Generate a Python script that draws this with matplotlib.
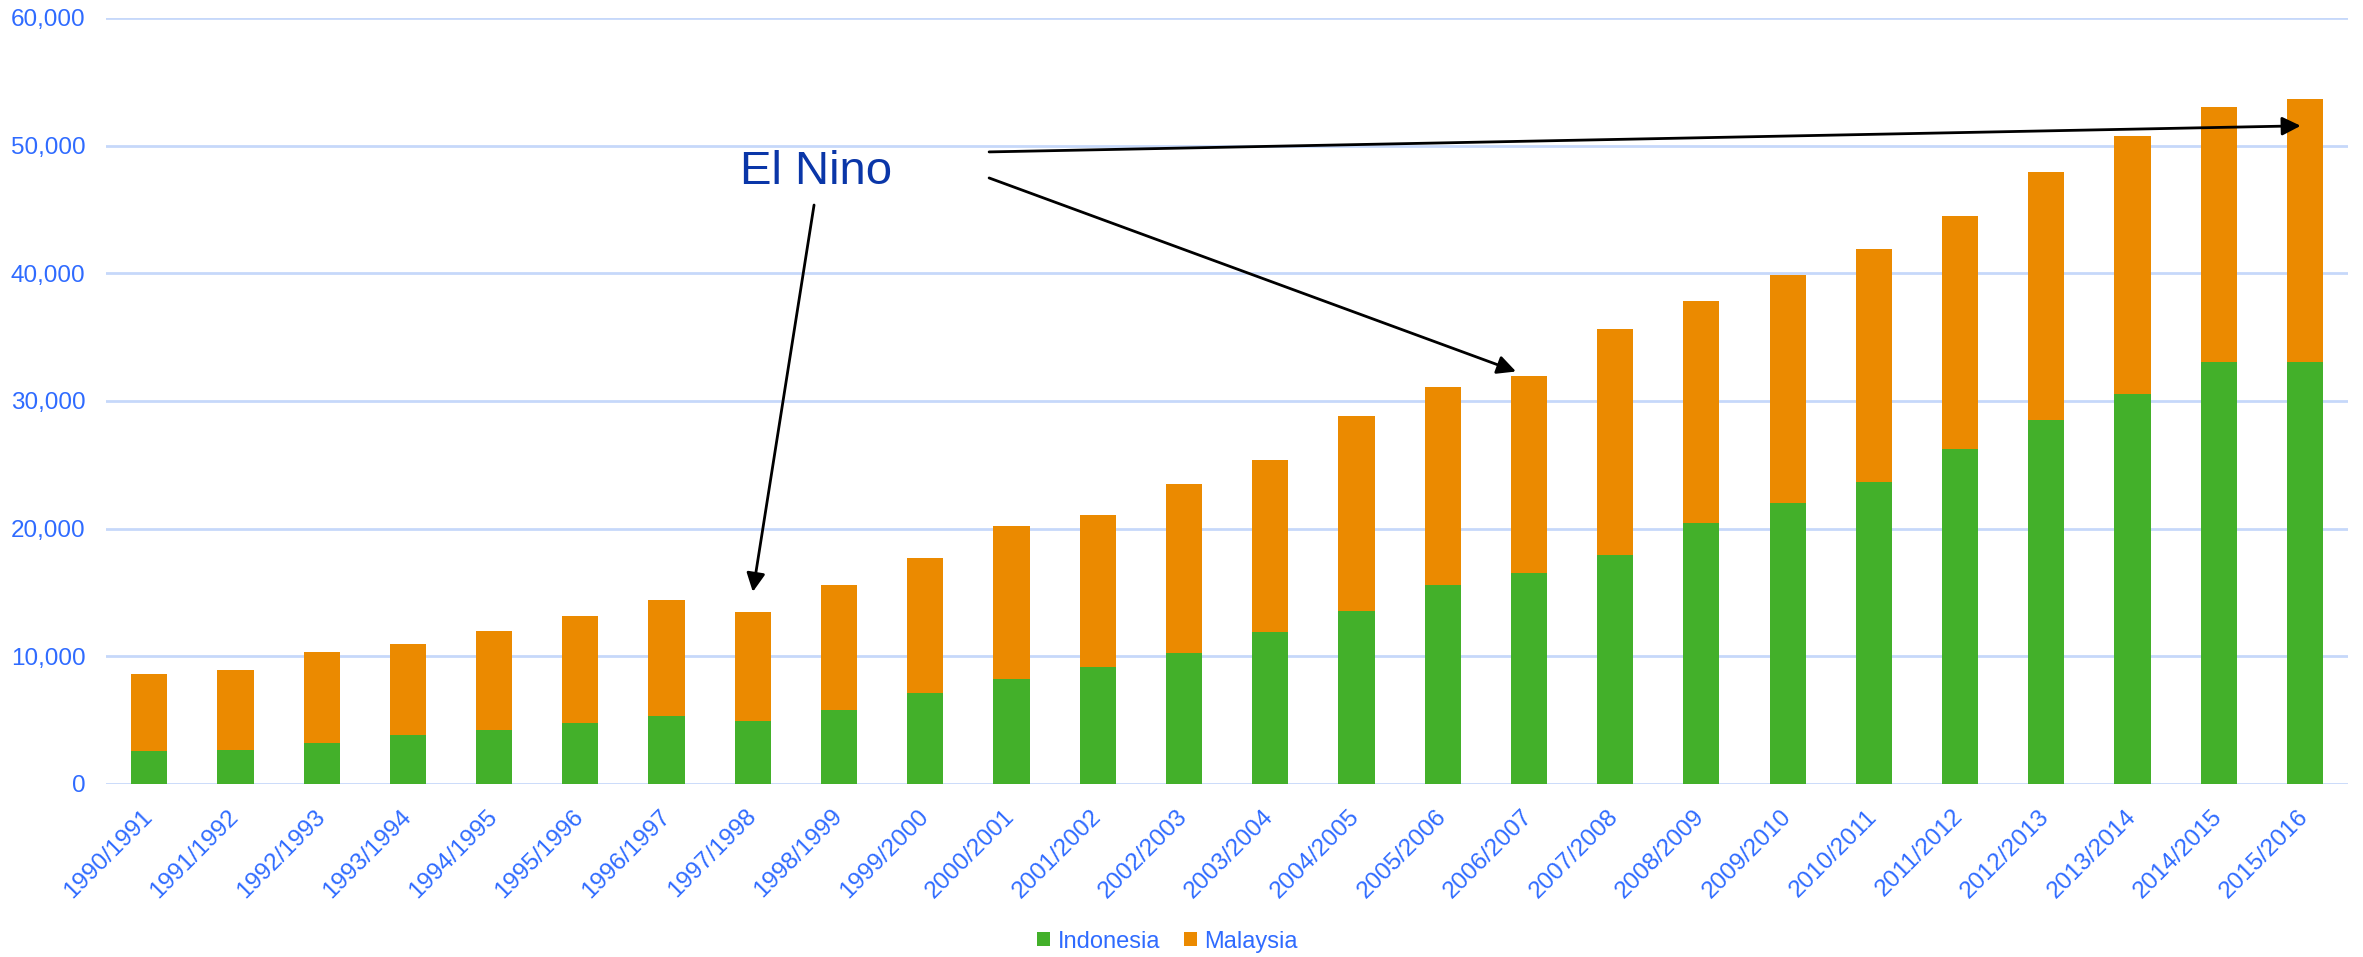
import numpy as np
import matplotlib
matplotlib.use("Agg")
import matplotlib.pyplot as plt
from matplotlib.ticker import FuncFormatter

plt.rcParams['font.family'] = ['Liberation Sans', 'DejaVu Sans']

seasons = ["1990/1991", "1991/1992", "1992/1993", "1993/1994", "1994/1995",
           "1995/1996", "1996/1997", "1997/1998", "1998/1999", "1999/2000",
           "2000/2001", "2001/2002", "2002/2003", "2003/2004", "2004/2005",
           "2005/2006", "2006/2007", "2007/2008", "2008/2009", "2009/2010",
           "2010/2011", "2011/2012", "2012/2013", "2013/2014", "2014/2015",
           "2015/2016"]
indonesia = [2560, 2695, 3190, 3820, 4190, 4760, 5310, 4920, 5760, 7150,
             8250, 9160, 10260, 11940, 13560, 15550, 16545, 17960, 20470, 22020,
             23615, 26205, 28485, 30525, 33070, 33070]
total = [8640, 8955, 10370, 11000, 11990, 13120, 14375, 13480, 15550, 17675,
         20210, 21075, 23510, 25400, 28800, 31110, 31970, 35610, 37830, 39850,
         41890, 44485, 47940, 50770, 53025, 53620]
malaysia = [t - i for t, i in zip(total, indonesia)]

green = "#43b02a"
orange = "#eb8a00"
blue = "#2f6bff"
grid_c = "#c6d8fa"

fig = plt.figure(figsize=(23.63, 9.57), dpi=100)
ax = fig.add_axes([0.0449, 0.1808, 0.9488, 0.8004])

x = np.arange(len(seasons))
ax.bar(x, indonesia, width=0.42, color=green, label="Indonesia", zorder=3)
ax.bar(x, malaysia, width=0.42, bottom=indonesia, color=orange, label="Malaysia", zorder=3)

ax.set_xlim(-0.5, len(seasons) - 0.5)
ax.set_ylim(0, 60000)
ax.set_yticks(np.arange(0, 60001, 10000))
ax.yaxis.set_major_formatter(FuncFormatter(lambda v, p: f"{int(v):,}"))
ax.grid(axis="y", color=grid_c, lw=2, zorder=0)
ax.set_axisbelow(True)
for s in ax.spines.values():
    s.set_visible(False)
ax.tick_params(axis="both", length=0, labelsize=17.5, labelcolor=blue)
ax.tick_params(axis="y", pad=15)
ax.tick_params(axis="x", pad=21)
ax.set_xticks(x)
ax.set_xticklabels(seasons, rotation=45, ha="right", va="center", rotation_mode="anchor")

# El Nino annotation
ax.text(6.85, 47900, "El Nino", fontsize=34, color="#0a36a8", va="center", ha="left")
arrow = dict(arrowstyle="-|>", color="black", lw=2, mutation_scale=28, shrinkA=0, shrinkB=0)
ax.annotate("", xy=(7.0, 15050), xytext=(7.71, 45350), arrowprops=arrow)
ax.annotate("", xy=(15.85, 32310), xytext=(9.74, 47470), arrowprops=arrow)
ax.annotate("", xy=(24.95, 51555), xytext=(9.74, 49510), arrowprops=arrow)

leg = fig.legend(loc="center", bbox_to_anchor=(0.494, 0.016), ncol=2, frameon=False,
                 fontsize=17, handlelength=0.55, handleheight=0.55, handletextpad=0.3,
                 columnspacing=1.0)
for t in leg.get_texts():
    t.set_color(blue)

fig.savefig("out.png", dpi=100)
